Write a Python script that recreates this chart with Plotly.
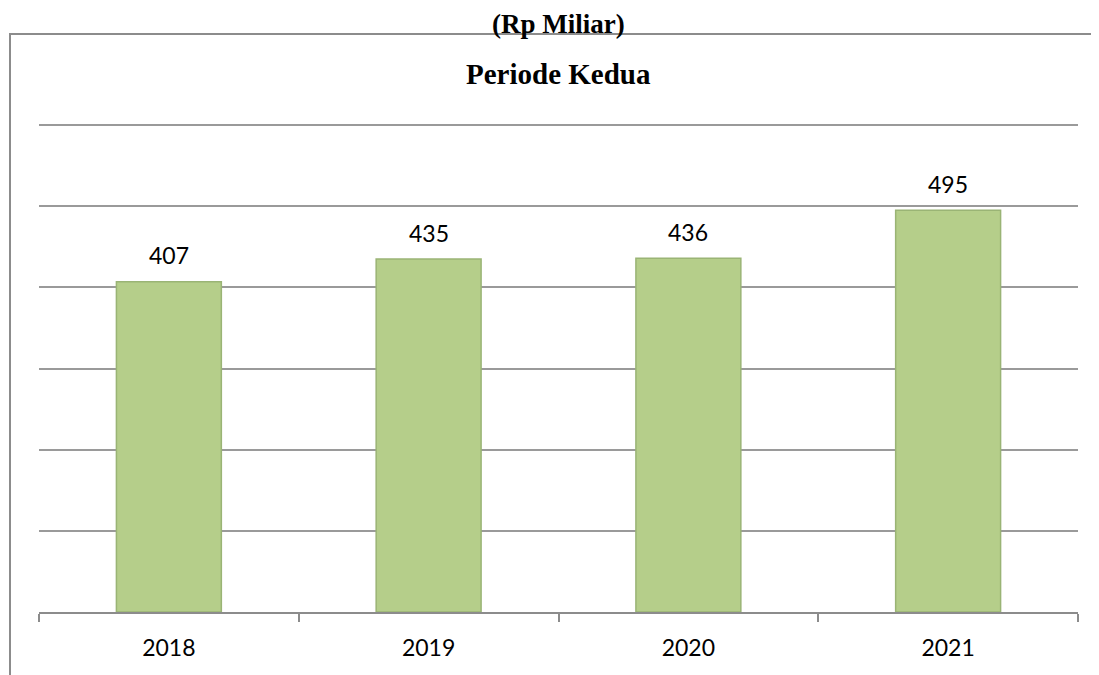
import plotly.graph_objects as go

years = ["2018", "2019", "2020", "2021"]
values = [407, 435, 436, 495]
y_ticks = [0, 100, 200, 300, 400, 500, 600]

W, H = 1099, 675
OFF = 8  # default body margin of the page
L, R, T, B = 31, 29, 109, 71
pw, ph = W - L - R, H - T - B

def px_x(p):
    return (p - OFF - L) / pw

def px_y(p):
    return (H - B - (p - OFF)) / ph

fig = go.Figure()
fig.add_trace(go.Bar(
    x=list(range(len(years))), y=values,
    marker=dict(color="#b5ce8a", line=dict(color="#9ab475", width=1.5)),
    width=0.404,
    hovertext=years, hoverinfo="text+y",
))

num_font = dict(family="Lato, Open Sans, sans-serif", size=23, color="#000")
annotations = [
    dict(x=i, y=v, text=str(v), showarrow=False, yshift=26.5,
         font=num_font, xref="x", yref="y", yanchor="middle")
    for i, v in enumerate(values)
]
annotations += [
    dict(x=0.5, y=px_y(24), xref="paper", yref="paper", text="<b>(Rp Miliar)</b>",
         showarrow=False, xanchor="center", yanchor="middle",
         font=dict(family="Liberation Serif, serif", size=27, color="#000")),
    dict(x=0.5, y=px_y(74), xref="paper", yref="paper", text="<b>Periode Kedua</b>",
         showarrow=False, xanchor="center", yanchor="middle",
         font=dict(family="Liberation Serif, serif", size=29, color="#000")),
]

fig.update_layout(
    width=W, height=H,
    margin=dict(l=L, r=R, t=T, b=B, autoexpand=False),
    paper_bgcolor="white", plot_bgcolor="white",
    showlegend=False,
    annotations=annotations,
    shapes=[dict(type="rect", xref="paper", yref="paper",
                 x0=px_x(10), x1=px_x(1130), y0=px_y(700), y1=px_y(34),
                 line=dict(color="#8c8c8c", width=2), layer="below")],
    xaxis=dict(range=[-0.5, len(years) - 0.5], tickvals=list(range(len(years))),
               ticktext=years, showgrid=False, showline=True, linecolor="#8c8c8c",
               linewidth=2, automargin=False, tickangle=0, zeroline=False,
               ticks="", ticklabelstandoff=14,
               minor=dict(tickvals=[i - 0.5 for i in range(len(years) + 1)],
                          ticks="outside", ticklen=8, tickcolor="#8c8c8c", tickwidth=2),
               tickfont=num_font),
    yaxis=dict(range=[0, 610], tickvals=y_ticks, showticklabels=False, showgrid=True,
               gridcolor="#9a9a9a", gridwidth=2, zeroline=False, showline=False,
               automargin=False),
)

fig.write_html("out.html")
